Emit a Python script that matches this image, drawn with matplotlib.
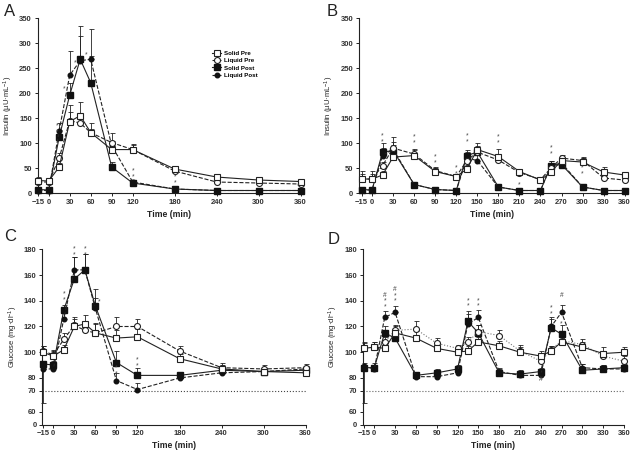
import numpy as np
import matplotlib
matplotlib.use('Agg')
import matplotlib.pyplot as plt

plt.rcParams['font.family'] = ['Liberation Sans', 'DejaVu Sans']
plt.rcParams['mathtext.default'] = 'regular'

# time points (min)
t_long = [-15, 0, 15, 30, 45, 60, 90, 120, 180, 240, 300, 360]
t_meal = [-15, 0, 15, 30, 60, 90, 120, 135, 150, 180, 210, 240, 255, 270, 300, 330, 360]
xt_long = [-15, 0, 30, 60, 90, 120, 180, 240, 300, 360]
xt_meal = [-15, 0, 30, 60, 90, 120, 150, 180, 210, 240, 270, 300, 330, 360]

# A - insulin, single meal
ins_solid_pre_a = [25, 24, 52, 143, 155, 121, 87, 87, 48, 32, 26, 23]
ins_liquid_pre_a = [22, 22, 70, 145, 140, 121, 101, 87, 44, 22, 20, 18]
ins_solid_post_a = [7, 6, 112, 196, 268, 221, 52, 20, 8, 5, 5, 5]
ins_liquid_post_a = [5, 5, 125, 236, 265, 268, 95, 22, 8, 5, 5, 5]
err_solid_pre_a = [8, 6, 8, 34, 28, 20, 12, 11, 6, 4, 4, 4]
err_liquid_pre_a = [5, 5, 10, 18, 12, 8, 20, 10, 5, 3, 3, 3]
err_solid_post_a = [3, 3, 15, 25, 67, 54, 10, 5, 2, 2, 2, 2]
err_liquid_post_a = [3, 3, 15, 49, 50, 61, 10, 5, 2, 2, 2, 2]

# B - insulin, three meals
ins_solid_pre_b = [28, 28, 36, 72, 75, 43, 33, 48, 87, 73, 43, 26, 42, 65, 62, 42, 36]
ins_liquid_pre_b = [28, 28, 55, 90, 78, 45, 33, 65, 82, 66, 41, 27, 50, 70, 65, 30, 26]
ins_solid_post_b = [7, 6, 82, 85, 17, 7, 5, 75, 82, 12, 5, 5, 55, 57, 12, 5, 5]
ins_liquid_post_b = [6, 6, 75, 88, 17, 7, 5, 70, 65, 12, 5, 5, 55, 60, 12, 5, 5]
err_solid_pre_b = [17, 16, 8, 20, 12, 8, 5, 8, 14, 16, 5, 4, 6, 8, 8, 11, 5]
err_liquid_pre_b = [10, 10, 8, 23, 10, 8, 5, 8, 10, 10, 5, 4, 6, 6, 8, 6, 5]
err_solid_post_b = [3, 3, 18, 12, 3, 2, 2, 12, 12, 3, 2, 2, 10, 10, 3, 2, 2]
err_liquid_post_b = [3, 3, 15, 15, 3, 2, 2, 12, 15, 3, 2, 2, 10, 10, 3, 2, 2]

# C - glucose, single meal
glu_solid_pre_c = [100, 97, 102, 120, 122, 115, 111, 112, 95, 87, 85, 84]
glu_liquid_pre_c = [101, 98, 110, 121, 117, 115, 120, 120, 101, 88, 87, 88]
glu_solid_post_c = [91, 90, 133, 157, 164, 136, 92, 82, 82, 86, 85, 86]
glu_liquid_post_c = [87, 87, 126, 164, 164, 134, 78, 71, 80, 84, 85, 87]
err_solid_pre_c = [5, 4, 4, 6, 7, 8, 6, 6, 4, 3, 3, 3]
err_liquid_pre_c = [4, 4, 5, 6, 6, 7, 7, 6, 4, 4, 3, 3]
err_solid_post_c = [0, 3, 4, 17, 12, 13, 9, 6, 3, 3, 2, 2]
err_solid_post_lo_c = [27, 0, 0, 0, 0, 0, 0, 0, 0, 0, 0, 0]
err_liquid_post_c = [2, 2, 8, 10, 12, 8, 6, 5, 2, 2, 2, 2]

# D - glucose, three meals
glu_solid_pre_d = [103, 104, 103, 115, 111, 103, 100, 101, 108, 105, 100, 97, 101, 108, 104, 99, 100]
glu_liquid_pre_d = [103, 104, 108, 117, 118, 107, 103, 108, 116, 113, 101, 93, 102, 109, 106, 97, 93]
glu_solid_post_d = [88, 88, 115, 111, 82, 84, 87, 124, 115, 84, 83, 85, 119, 114, 86, 87, 88]
glu_liquid_post_d = [89, 87, 127, 131, 81, 81, 84, 122, 127, 85, 82, 82, 120, 131, 88, 87, 87]
err_solid_pre_d = [5, 4, 4, 5, 6, 4, 4, 4, 4, 4, 6, 4, 4, 4, 4, 5, 4]
err_liquid_pre_d = [4, 4, 4, 4, 6, 4, 3, 4, 5, 4, 3, 3, 3, 4, 4, 4, 4]
err_solid_post_d = [0, 4, 5, 5, 3, 3, 3, 8, 6, 3, 3, 3, 8, 7, 5, 3, 3]
err_solid_post_lo_d = [24, 0, 0, 0, 0, 0, 0, 0, 0, 0, 0, 0, 0, 0, 0, 0, 0]
err_liquid_post_d = [3, 3, 5, 5, 3, 3, 3, 8, 6, 3, 3, 3, 6, 6, 3, 3, 3]

# significance marks (time, value, symbols stacked top to bottom)
marks_a = [(12, 128, '*\n*'), (22, 208, '*'), (38, 260, '*'), (53, 276, '*'),
           (120, 39, '*\n*'), (180, 27, '*\n*'), (356, 15, '*')]
marks_b = [(15, 109, '*\n*'), (60, 107, '*\n*'), (90, 67, '*\n*'), (120, 44, '*\n*'),
           (135, 109, '*\n*'), (180, 107, '*\n*'), (210, 17, '*'), (255, 85, '*\n*'), (300, 44, '*\n*')]
marks_c = [(15, 143, '*\n*'), (30, 178, '*\n*'), (45, 178, '*\n*'), (65, 139, '*'),
           (90, 85.5, '*\n*'), (120, 92, '*\n*')]
marks_d = [(15, 140, '#\n*\n*'), (30, 144, '#\n*\n*'), (135, 138, '*\n*'), (150, 138, '*\n*'),
           (255, 132, '*\n*'), (270, 144, '#'), (270, 122, '*'), (240, 79, '#')]

W, H = 635, 457
ink = '#222222'
fig = plt.figure(figsize=(W / 100, H / 100), dpi=100)


def add_ax(left, top, right, bottom):
    return fig.add_axes([left / W, 1 - bottom / H, (right - left) / W, (bottom - top) / H])


def glu_fwd(y):
    y = np.asarray(y, dtype=float)
    return np.where(y <= 60, y * 0.65, np.where(y <= 70, 39 + (y - 60) * 6.3, 102 + (y - 70) * 3.875))


def glu_inv(z):
    z = np.asarray(z, dtype=float)
    return np.where(z <= 39, z / 0.65, np.where(z <= 102, 60 + (z - 39) / 6.3, 70 + (z - 102) / 3.875))


def draw(ax, t, sp, lp, so, lo, e_sp, e_lp, e_so, e_lo, e_so_lo=None, lp_style='--'):
    n = len(t)
    zero = np.zeros(n)
    so_lo = zero if e_so_lo is None else e_so_lo
    for vals, lower, upper in [(sp, zero, e_sp), (lp, zero, e_lp), (so, so_lo, e_so), (lo, zero, e_lo)]:
        ax.errorbar(t, vals, yerr=[lower, upper], fmt='none', ecolor=ink, elinewidth=0.6,
                    capsize=1.8, capthick=0.6, zorder=2, clip_on=False)
    h1, = ax.plot(t, so, ls='-', color=ink, lw=0.8, marker='s', ms=4.3, mfc='#111111', mec='#111111',
                  zorder=3, clip_on=False, label='Solid Post')
    h2, = ax.plot(t, lo, ls='--', color=ink, lw=0.8, marker='o', ms=3.3, mfc='#111111', mec='#111111',
                  zorder=3, clip_on=False, label='Liquid Post')
    lp_col = '#777777' if lp_style == ':' else ink
    h3, = ax.plot(t, lp, ls=lp_style, color=lp_col, lw=0.8, marker='o', ms=4.3, mfc='white', mec=ink,
                  mew=0.8, zorder=4, clip_on=False, label='Liquid Pre')
    h4, = ax.plot(t, sp, ls='-', color=ink, lw=0.8, marker='s', ms=4.3, mfc='white', mec=ink,
                  mew=0.8, zorder=5, clip_on=False, label='Solid Pre')
    return [h4, h3, h1, h2]


def style(ax, xticks, xlim, ylabel):
    ax.set_xlim(xlim)
    ax.set_xticks(xticks)
    for s in ['top', 'right']:
        ax.spines[s].set_visible(False)
    for s in ['left', 'bottom']:
        ax.spines[s].set_linewidth(0.8)
        ax.spines[s].set_color(ink)
    ax.tick_params(length=2.5, width=0.7, color=ink, labelsize=5.5, labelcolor='#333333', pad=1.5)
    for lab in ax.get_xticklabels() + ax.get_yticklabels():
        lab.set_fontweight('bold')
    ax.set_xlabel('Time (min)', fontsize=6.2, fontweight='bold', color='#222222', labelpad=3)
    ax.set_ylabel(ylabel, fontsize=5.5, color='#222222', labelpad=3)


def put_marks(ax, marks):
    for tm, v, s in marks:
        ax.text(tm, v, s, ha='center', va='center', fontsize=4.8, linespacing=0.75,
                color='#444444', clip_on=False, zorder=6)


ins_label = 'Insulin (µU·mL$^{-1}$)'
glu_label = 'Glucose (mg·dl$^{-1}$)'

# panel A
axA = add_ax(37.5, 18.3, 300.7, 193)
handles = draw(axA, t_long, ins_solid_pre_a, ins_liquid_pre_a, ins_solid_post_a, ins_liquid_post_a,
               err_solid_pre_a, err_liquid_pre_a, err_solid_post_a, err_liquid_post_a)
axA.set_ylim(0, 350)
axA.set_yticks(range(0, 351, 50))
style(axA, xt_long, (-16, 360), ins_label)
put_marks(axA, marks_a)
leg = axA.legend(handles=handles, loc='upper left', bbox_to_anchor=(0.655, 0.83), frameon=False,
                 prop={'size': 4.4, 'weight': 'bold'}, handlelength=1.4, labelspacing=0.35,
                 handletextpad=0.5, borderaxespad=0)

# panel B
axB = add_ax(358.7, 18.3, 624.7, 193)
draw(axB, t_meal, ins_solid_pre_b, ins_liquid_pre_b, ins_solid_post_b, ins_liquid_post_b,
     err_solid_pre_b, err_liquid_pre_b, err_solid_post_b, err_liquid_post_b)
axB.set_ylim(0, 350)
axB.set_yticks(range(0, 351, 50))
style(axB, xt_meal, (-19, 360), ins_label)
put_marks(axB, marks_b)

# panel C
axC = add_ax(42.1, 249.3, 305.7, 424.7)
axC.set_yscale('function', functions=(glu_fwd, glu_inv))
draw(axC, t_long, glu_solid_pre_c, glu_liquid_pre_c, glu_solid_post_c, glu_liquid_post_c,
     err_solid_pre_c, err_liquid_pre_c, err_solid_post_c, err_liquid_post_c, e_so_lo=err_solid_post_lo_c)
axC.set_ylim(0, 180)
axC.set_yticks([0, 60, 70, 80, 100, 120, 140, 160, 180])
axC.yaxis.set_major_formatter(matplotlib.ticker.FormatStrFormatter('%d'))
axC.yaxis.set_minor_locator(matplotlib.ticker.NullLocator())
axC.axhline(70, ls=':', color='#444444', lw=0.8, zorder=1)
style(axC, xt_long, (-16, 360), glu_label)
put_marks(axC, marks_c)

# panel D
axD = add_ax(362.5, 249.3, 624, 424.7)
axD.set_yscale('function', functions=(glu_fwd, glu_inv))
draw(axD, t_meal, glu_solid_pre_d, glu_liquid_pre_d, glu_solid_post_d, glu_liquid_post_d,
     err_solid_pre_d, err_liquid_pre_d, err_solid_post_d, err_liquid_post_d, e_so_lo=err_solid_post_lo_d,
     lp_style=':')
axD.set_ylim(0, 180)
axD.set_yticks([0, 60, 70, 80, 100, 120, 140, 160, 180])
axD.yaxis.set_major_formatter(matplotlib.ticker.FormatStrFormatter('%d'))
axD.yaxis.set_minor_locator(matplotlib.ticker.NullLocator())
axD.axhline(70, ls=':', color='#666666', lw=0.8, zorder=1)
style(axD, xt_meal, (-17, 360), glu_label)
put_marks(axD, marks_d)

for letter, x, y in [('A', 4, 4), ('B', 327, 4), ('C', 4, 229), ('D', 328, 232)]:
    fig.text(x / W, 1 - y / H, letter, fontsize=12, va='top', ha='left', color='#222222')

fig.savefig('out.png', dpi=100)
